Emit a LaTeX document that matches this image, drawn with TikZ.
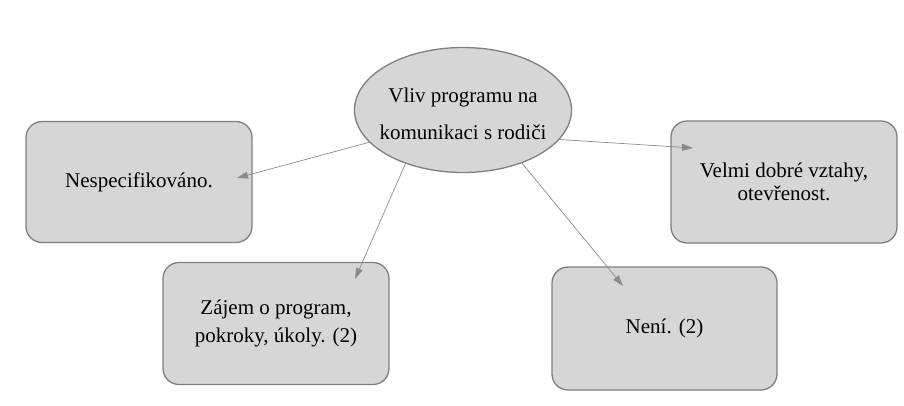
\documentclass[tikz,border=0pt]{standalone}
\usepackage{fontspec}
\setmainfont{Liberation Serif}
\usetikzlibrary{shapes.geometric,arrows.meta,positioning}
\definecolor{boxfill}{HTML}{D6D6D6}
\definecolor{boxline}{HTML}{7F7F7F}
\definecolor{arrowgray}{HTML}{8C8C8C}

\begin{document}
\begin{tikzpicture}[x=1pt,y=-1pt,
  box/.style={draw=boxline, fill=boxfill, line width=1.3pt,
    rounded corners=16pt, align=center, inner sep=0pt,
    minimum width=226pt, minimum height=122pt,
    font=\fontsize{21}{26}\selectfont},
  topic/.style={ellipse, draw=boxline, fill=boxfill, line width=1.3pt,
    inner sep=0pt, minimum width=217pt, minimum height=125pt},
  topictext/.style={align=center, inner sep=0pt,
    font=\fontsize{21}{37}\selectfont},
  link/.style={draw=arrowgray, line width=0.7pt,
    -{Triangle[length=11pt,width=7pt]}}
]
  \useasboundingbox (0,0) rectangle (904,405);

  \node[topic] (vliv) at (463,110) {};
  \node[topictext] (vlivtext) at (463,114) {Vliv programu na\\komunikaci s rodiči};

  \node[box, minimum height=121pt] (nesp) at (139,182) {Nespecifikováno.};
  \node[box, font=\fontsize{21}{28}\selectfont] (zajem) at (276,323.5)
    {Zájem o program,\\pokroky, úkoly. (2)};
  \node[box, font=\fontsize{21}{23}\selectfont] (velmi) at (784,182)
    {Velmi dobré vztahy,\\otevřenost.};
  \node[box, minimum width=225pt, minimum height=123pt] (neni) at (664.5,328.5)
    {Není. (2)};

  % arrow tips sit inside the boxes
  \coordinate (tipnesp) at (237,178);
  \coordinate (tipzajem) at (355,279);
  \coordinate (tipvelmi) at (693,148);
  \coordinate (tipneni) at (623,286);

  \draw[link] (vliv.199) -- (tipnesp);
  \draw[link] (vliv.223) -- (tipzajem);
  \draw[link] (vliv.343) -- (tipvelmi);
  \draw[link] (vliv.318) -- (tipneni);
\end{tikzpicture}
\end{document}
